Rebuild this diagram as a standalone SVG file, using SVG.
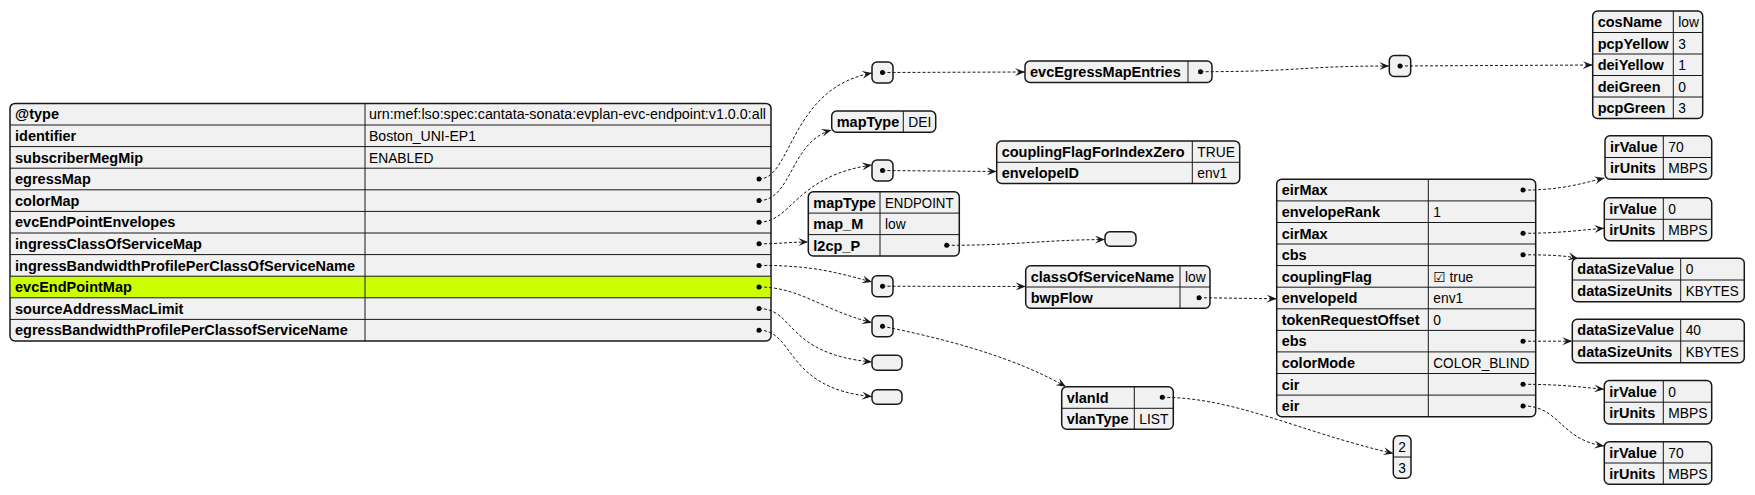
<svg xmlns="http://www.w3.org/2000/svg" width="1755" height="495" viewBox="0 0 1755 495">
<style>
.b{fill:#F1F1F1;stroke:#181818;stroke-width:1.5}
.l{stroke:#181818;stroke-width:1;fill:none}
.k{font-family:"Liberation Sans","DejaVu Sans",sans-serif;font-weight:bold;font-size:14.5px;fill:#000}
.v{font-family:"Liberation Sans","DejaVu Sans",sans-serif;font-size:13.8px;fill:#000}
.d{fill:#000}
.c{stroke:#181818;stroke-width:1;fill:none;stroke-dasharray:3,2;marker-end:url(#ah)}
</style>
<defs>
<marker id="ah" viewBox="0 0 10 8" refX="10" refY="4" markerWidth="10" markerHeight="8" markerUnits="userSpaceOnUse" orient="auto">
<path d="M0,0 L10,4 L0,8 L4,4 Z" fill="#181818"/>
</marker>
</defs>
<rect width="1755" height="495" fill="#FFFFFF"/>

<g id="main">
<rect class="b" x="10" y="103.4" width="761" height="237.6" rx="5"/>
<rect x="10.75" y="276.2" width="759.5" height="21.6" fill="#CCFF00"/>
<path class="l" d="M10,125H771M10,146.6H771M10,168.2H771M10,189.8H771M10,211.4H771M10,233H771M10,254.6H771M10,276.2H771M10,297.8H771M10,319.4H771M365,103.4V341"/>
<text class="k" x="15" y="119.4">@type</text>
<text class="v" x="369" y="119.4" textLength="397" lengthAdjust="spacingAndGlyphs">urn:mef:lso:spec:cantata-sonata:evplan-evc-endpoint:v1.0.0:all</text>
<text class="k" x="15" y="141">identifier</text>
<text class="v" x="369" y="141" textLength="107" lengthAdjust="spacingAndGlyphs">Boston_UNI-EP1</text>
<text class="k" x="15" y="162.6">subscriberMegMip</text>
<text class="v" x="369" y="162.6">ENABLED</text>
<text class="k" x="15" y="184.2">egressMap</text>
<text class="k" x="15" y="205.8">colorMap</text>
<text class="k" x="15" y="227.4">evcEndPointEnvelopes</text>
<text class="k" x="15" y="249">ingressClassOfServiceMap</text>
<text class="k" x="15" y="270.6">ingressBandwidthProfilePerClassOfServiceName</text>
<text class="k" x="15" y="292.2">evcEndPointMap</text>
<text class="k" x="15" y="313.8">sourceAddressMacLimit</text>
<text class="k" x="15" y="335.4">egressBandwidthProfilePerClassofServiceName</text>
<circle class="d" cx="759" cy="179" r="2.5"/>
<circle class="d" cx="759" cy="200.6" r="2.5"/>
<circle class="d" cx="759" cy="222.2" r="2.5"/>
<circle class="d" cx="759" cy="243.8" r="2.5"/>
<circle class="d" cx="759" cy="265.4" r="2.5"/>
<circle class="d" cx="759" cy="287" r="2.5"/>
<circle class="d" cx="759" cy="308.6" r="2.5"/>
<circle class="d" cx="759" cy="330.2" r="2.5"/>
</g>

<g id="egressMapItem">
<rect class="b" x="872" y="62" width="21" height="21" rx="5"/>
<circle class="d" cx="882.5" cy="72.5" r="2.5"/>
</g>

<g id="evcEgressMapEntries">
<rect class="b" x="1025" y="61" width="187" height="21.5" rx="5"/>
<path class="l" d="M1188,61V82.5"/>
<text class="k" x="1030" y="76.8">evcEgressMapEntries</text>
<circle class="d" cx="1200.5" cy="71.7" r="2.5"/>
</g>

<g id="entryItem">
<rect class="b" x="1389.3" y="55.5" width="21.4" height="21" rx="5"/>
<circle class="d" cx="1400" cy="66" r="2.5"/>
</g>

<g id="cosEntry">
<rect class="b" x="1592.7" y="11" width="110" height="107.5" rx="5"/>
<path class="l" d="M1592.7,32.5H1702.7M1592.7,54H1702.7M1592.7,75.5H1702.7M1592.7,97H1702.7M1673.3,11V118.5"/>
<text class="k" x="1597.7" y="27">cosName</text>
<text class="v" x="1678.3" y="27">low</text>
<text class="k" x="1597.7" y="48.5">pcpYellow</text>
<text class="v" x="1678.3" y="48.5">3</text>
<text class="k" x="1597.7" y="70">deiYellow</text>
<text class="v" x="1678.3" y="70">1</text>
<text class="k" x="1597.7" y="91.5">deiGreen</text>
<text class="v" x="1678.3" y="91.5">0</text>
<text class="k" x="1597.7" y="113">pcpGreen</text>
<text class="v" x="1678.3" y="113">3</text>
</g>

<g id="colorMap">
<rect class="b" x="831.7" y="111" width="104" height="21.3" rx="5"/>
<path class="l" d="M903.3,111V132.3"/>
<text class="k" x="836.7" y="126.8">mapType</text>
<text class="v" x="908.3" y="126.8">DEI</text>
</g>

<g id="envelopesItem">
<rect class="b" x="872" y="160" width="21" height="21" rx="5"/>
<circle class="d" cx="882.5" cy="170.5" r="2.5"/>
</g>

<g id="envelope">
<rect class="b" x="996.7" y="141" width="243" height="42.5" rx="5"/>
<path class="l" d="M996.7,162.3H1239.7M1192.3,141V183.5"/>
<text class="k" x="1001.7" y="156.8">couplingFlagForIndexZero</text>
<text class="v" x="1197.3" y="156.8">TRUE</text>
<text class="k" x="1001.7" y="178.1">envelopeID</text>
<text class="v" x="1197.3" y="178.1">env1</text>
</g>

<g id="ingressClassOfServiceMap">
<rect class="b" x="808.3" y="191.7" width="151" height="64.3" rx="5"/>
<path class="l" d="M808.3,213.1H959.3M808.3,234.6H959.3M880,191.7V256"/>
<text class="k" x="813.3" y="207.5">mapType</text>
<text class="v" x="885" y="207.5" textLength="68.5" lengthAdjust="spacingAndGlyphs">ENDPOINT</text>
<text class="k" x="813.3" y="229">map_M</text>
<text class="v" x="885" y="229">low</text>
<text class="k" x="813.3" y="250.5">l2cp_P</text>
<circle class="d" cx="946.7" cy="245.3" r="2.5"/>
</g>

<g id="l2cpEmpty">
<rect class="b" x="1105" y="231.7" width="31" height="14.5" rx="5"/>
</g>

<g id="bwpItem">
<rect class="b" x="872" y="275.7" width="21" height="21" rx="5"/>
<circle class="d" cx="882.5" cy="286.2" r="2.5"/>
</g>

<g id="bwpProfile">
<rect class="b" x="1025.7" y="265.7" width="184.3" height="42.6" rx="5"/>
<path class="l" d="M1025.7,287H1210M1180,265.7V308.3"/>
<text class="k" x="1030.7" y="281.5">classOfServiceName</text>
<text class="v" x="1185" y="281.5">low</text>
<text class="k" x="1030.7" y="302.8">bwpFlow</text>
<circle class="d" cx="1199" cy="297.7" r="2.5"/>
</g>

<g id="bwpFlow">
<rect class="b" x="1276.7" y="179.3" width="259" height="237.4" rx="5"/>
<path class="l" d="M1276.7,200.9H1535.7M1276.7,222.5H1535.7M1276.7,244H1535.7M1276.7,265.6H1535.7M1276.7,287.2H1535.7M1276.7,308.8H1535.7M1276.7,330.4H1535.7M1276.7,351.9H1535.7M1276.7,373.5H1535.7M1276.7,395.1H1535.7M1428.3,179.3V416.7"/>
<text class="k" x="1281.7" y="195.3">eirMax</text>
<text class="k" x="1281.7" y="216.9">envelopeRank</text>
<text class="v" x="1433.3" y="216.9">1</text>
<text class="k" x="1281.7" y="238.5">cirMax</text>
<text class="k" x="1281.7" y="260">cbs</text>
<text class="k" x="1281.7" y="281.6">couplingFlag</text>
<text class="v" x="1433.3" y="281.6">☑ true</text>
<text class="k" x="1281.7" y="303.2">envelopeId</text>
<text class="v" x="1433.3" y="303.2">env1</text>
<text class="k" x="1281.7" y="324.8">tokenRequestOffset</text>
<text class="v" x="1433.3" y="324.8">0</text>
<text class="k" x="1281.7" y="346.4">ebs</text>
<text class="k" x="1281.7" y="367.9">colorMode</text>
<text class="v" x="1433.3" y="367.9" textLength="96" lengthAdjust="spacingAndGlyphs">COLOR_BLIND</text>
<text class="k" x="1281.7" y="389.5">cir</text>
<text class="k" x="1281.7" y="411.1">eir</text>
<circle class="d" cx="1523" cy="190.1" r="2.5"/>
<circle class="d" cx="1523" cy="233.3" r="2.5"/>
<circle class="d" cx="1523" cy="254.8" r="2.5"/>
<circle class="d" cx="1523" cy="341.2" r="2.5"/>
<circle class="d" cx="1523" cy="384.3" r="2.5"/>
<circle class="d" cx="1523" cy="405.9" r="2.5"/>
</g>

<g id="evcEndPointMapItem">
<rect class="b" x="872" y="315.7" width="21" height="21" rx="5"/>
<circle class="d" cx="882.5" cy="326.2" r="2.5"/>
</g>

<g id="sourceAddressEmpty">
<rect class="b" x="872" y="355.3" width="30" height="15" rx="5"/>
</g>

<g id="egressBwpEmpty">
<rect class="b" x="872" y="389.7" width="30" height="14.5" rx="5"/>
</g>

<g id="vlan">
<rect class="b" x="1061.7" y="386.7" width="111.6" height="42.6" rx="5"/>
<path class="l" d="M1061.7,408.3H1173.3M1134.3,386.7V429.3"/>
<text class="k" x="1066.7" y="402.5">vlanId</text>
<circle class="d" cx="1162.3" cy="397.3" r="2.5"/>
<text class="k" x="1066.7" y="424">vlanType</text>
<text class="v" x="1139.3" y="424">LIST</text>
</g>

<g id="vlanList">
<rect class="b" x="1393.3" y="435.7" width="17.7" height="42.6" rx="5"/>
<path class="l" d="M1393.3,457H1411"/>
<text class="v" x="1402.2" y="451.8" text-anchor="middle">2</text>
<text class="v" x="1402.2" y="473.2" text-anchor="middle">3</text>
</g>

<g id="eirMaxVal">
<rect class="b" x="1605" y="135.7" width="106.7" height="43.6" rx="5"/>
<path class="l" d="M1605,157.5H1711.7M1663.3,135.7V179.3"/>
<text class="k" x="1610" y="151.7">irValue</text>
<text class="v" x="1668.3" y="151.7">70</text>
<text class="k" x="1610" y="173.3">irUnits</text>
<text class="v" x="1668.3" y="173.3">MBPS</text>
</g>

<g id="cirMaxVal">
<rect class="b" x="1604.3" y="197.7" width="107.4" height="43" rx="5"/>
<path class="l" d="M1604.3,219.3H1711.7M1663.3,197.7V240.7"/>
<text class="k" x="1609.3" y="213.5">irValue</text>
<text class="v" x="1668.3" y="213.5">0</text>
<text class="k" x="1609.3" y="235">irUnits</text>
<text class="v" x="1668.3" y="235">MBPS</text>
</g>

<g id="cbsVal">
<rect class="b" x="1572.3" y="258.3" width="172" height="43.4" rx="5"/>
<path class="l" d="M1572.3,280H1744.3M1680.7,258.3V301.7"/>
<text class="k" x="1577.3" y="274.3">dataSizeValue</text>
<text class="v" x="1685.7" y="274.3">0</text>
<text class="k" x="1577.3" y="296">dataSizeUnits</text>
<text class="v" x="1685.7" y="296" textLength="53" lengthAdjust="spacingAndGlyphs">KBYTES</text>
</g>

<g id="ebsVal">
<rect class="b" x="1572.3" y="319.3" width="172" height="43.4" rx="5"/>
<path class="l" d="M1572.3,341H1744.3M1680.7,319.3V362.7"/>
<text class="k" x="1577.3" y="335.3">dataSizeValue</text>
<text class="v" x="1685.7" y="335.3">40</text>
<text class="k" x="1577.3" y="357">dataSizeUnits</text>
<text class="v" x="1685.7" y="357" textLength="53" lengthAdjust="spacingAndGlyphs">KBYTES</text>
</g>

<g id="cirVal">
<rect class="b" x="1604.3" y="380.5" width="107.4" height="43.5" rx="5"/>
<path class="l" d="M1604.3,402.2H1711.7M1663.3,380.5V424"/>
<text class="k" x="1609.3" y="396.5">irValue</text>
<text class="v" x="1668.3" y="396.5">0</text>
<text class="k" x="1609.3" y="418.2">irUnits</text>
<text class="v" x="1668.3" y="418.2">MBPS</text>
</g>

<g id="eirVal">
<rect class="b" x="1604.3" y="441.7" width="107.4" height="42.6" rx="5"/>
<path class="l" d="M1604.3,463H1711.7M1663.3,441.7V484.3"/>
<text class="k" x="1609.3" y="457.5">irValue</text>
<text class="v" x="1668.3" y="457.5">70</text>
<text class="k" x="1609.3" y="478.8">irUnits</text>
<text class="v" x="1668.3" y="478.8">MBPS</text>
</g>

<g id="connectors">
<path class="c" d="M759,179 C792,179 790,88 872,73"/>
<path class="c" d="M759,200.6 C792,200.6 790,142 831.5,130"/>
<path class="c" d="M759,222.2 C792,222.2 795,176 872,165"/>
<path class="c" d="M759,243.8 C780,243.8 790,242 808.3,242"/>
<path class="c" d="M759,265.4 C812,265.4 835,272 872,282"/>
<path class="c" d="M759,287 C800,287 822,310 872,322.7"/>
<path class="c" d="M759,308.6 C795,308.6 785,354 872,362"/>
<path class="c" d="M759,330.2 C795,330.2 785,389 872,396.5"/>
<path class="c" d="M882.5,72.5 L1025,72"/>
<path class="c" d="M1200.5,71.7 C1300,71.7 1300,66 1389.3,66"/>
<path class="c" d="M1400,66 L1592.7,65"/>
<path class="c" d="M882.5,170.5 L996.7,171.5"/>
<path class="c" d="M946.7,245.3 C1020,245.3 1040,240 1105,239.5"/>
<path class="c" d="M882.5,286.2 L1025.7,286.5"/>
<path class="c" d="M1199,297.7 L1276.7,298.8"/>
<path class="c" d="M882.5,326.2 C940,338 1010,355 1066,386.7"/>
<path class="c" d="M1162.3,397.3 C1235,397.3 1300,432 1393.3,453.5"/>
<path class="c" d="M1523,190.1 C1560,190.1 1580,184 1604.5,178"/>
<path class="c" d="M1523,233.3 C1560,233.3 1580,230 1604.3,228.3"/>
<path class="c" d="M1523,254.8 C1550,254.8 1565,255.5 1578,258.5"/>
<path class="c" d="M1523,341.2 L1572.3,341.2"/>
<path class="c" d="M1523,384.3 C1560,384.3 1580,387 1604.3,389.3"/>
<path class="c" d="M1523,405.9 C1560,405.9 1560,440 1604.3,446"/>
</g>
</svg>
